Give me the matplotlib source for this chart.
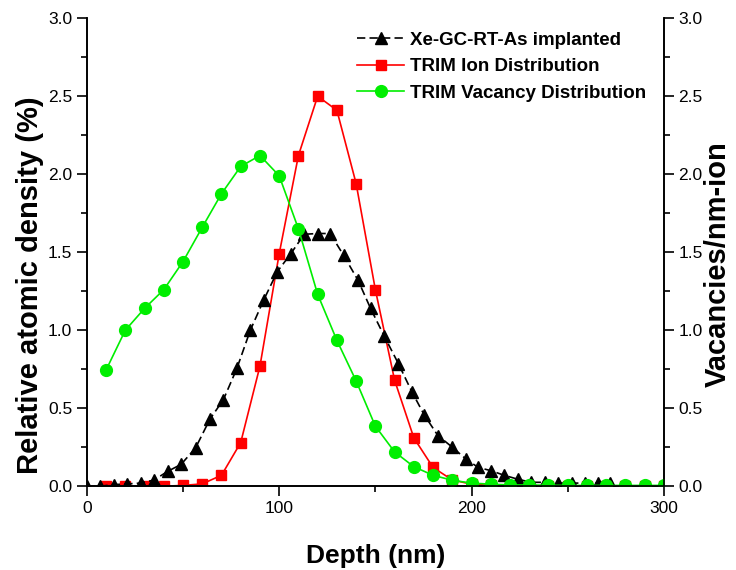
import matplotlib
matplotlib.use("Agg")
import matplotlib.pyplot as plt
from matplotlib.ticker import MultipleLocator, FormatStrFormatter

plt.rcParams["font.family"] = ["Liberation Sans", "DejaVu Sans"]

# Xe-GC-RT-As implanted (measured profile)
exp_depth = [0, 7, 14, 21, 28, 35, 42, 49, 56.5, 64, 71, 78, 85, 92, 99, 106,
             113, 120, 126.5, 133.5, 141, 147.5, 154.5, 162, 169, 175.5, 182.5,
             190, 197, 203.5, 210, 217, 224, 231, 238, 245, 252, 259, 265.5, 272]
exp_density = [0.0, 0.0, 0.01, 0.015, 0.02, 0.04, 0.095, 0.14, 0.245, 0.43,
               0.555, 0.755, 1.0, 1.195, 1.375, 1.49, 1.615, 1.62, 1.62, 1.48,
               1.32, 1.14, 0.965, 0.785, 0.605, 0.455, 0.325, 0.25, 0.175, 0.12,
               0.1, 0.07, 0.045, 0.025, 0.025, 0.02, 0.02, 0.02, 0.02, 0.02]

# TRIM ion distribution
trim_depth = [10, 20, 30, 40, 50, 60, 70, 80, 90, 100, 110, 120, 130, 140, 150,
              160, 170, 180, 190, 200, 210, 220, 230, 240, 250, 260, 270, 280,
              290, 300]
ion_density = [0.0, 0.0, 0.0, 0.0, 0.005, 0.015, 0.07, 0.28, 0.77, 1.49, 2.12,
               2.5, 2.41, 1.94, 1.26, 0.68, 0.31, 0.12, 0.04, 0.013, 0.005, 0.0,
               0.0, 0.0, 0.0, 0.0, 0.0, 0.0, 0.0, 0.0]

# TRIM vacancy distribution (right axis)
vacancies = [0.745, 1.0, 1.14, 1.26, 1.44, 1.66, 1.875, 2.05, 2.12, 1.99, 1.65,
             1.23, 0.935, 0.675, 0.385, 0.22, 0.125, 0.07, 0.038, 0.02, 0.013,
             0.008, 0.008, 0.006, 0.005, 0.005, 0.005, 0.005, 0.005, 0.005]

fig = plt.figure(figsize=(7.36, 5.70), dpi=100)
ax = fig.add_axes([0.118, 0.147, 0.784, 0.821])
ax2 = ax.twinx()

l1, = ax.plot(exp_depth, exp_density, color="black", linestyle=(0, (5, 2.5)),
              linewidth=1.2, marker="^", markersize=9, label="Xe-GC-RT-As implanted",
              zorder=3)
l2, = ax.plot(trim_depth, ion_density, color="#ff0000", linewidth=1.2, marker="s",
              markersize=7, markeredgecolor="#ff0000", label="TRIM Ion Distribution",
              zorder=2)
l3, = ax2.plot(trim_depth, vacancies, color="#00ee00", linewidth=1.2, marker="o",
               markersize=8.5, markeredgecolor="#00ee00",
               label="TRIM Vacancy Distribution")

for a in (ax, ax2):
    a.set_xlim(0, 300)
    a.set_ylim(0, 3.0)
    a.yaxis.set_major_locator(MultipleLocator(0.5))
    a.yaxis.set_minor_locator(MultipleLocator(0.25))
    a.yaxis.set_major_formatter(FormatStrFormatter("%.1f"))
    a.spines["top"].set_visible(False)
    for s in a.spines.values():
        s.set_linewidth(1.2)
    a.tick_params(which="major", direction="out", length=7, width=1.2, labelsize=12.5)
    a.tick_params(which="minor", direction="out", length=4, width=1.2)

ax.xaxis.set_major_locator(MultipleLocator(100))
ax.xaxis.set_minor_locator(MultipleLocator(50))

ax.set_xlabel("Depth (nm)", fontsize=19, fontweight="bold", labelpad=20)
ax.set_ylabel("Relative atomic density (%)", fontsize=21, fontweight="bold", labelpad=3)
ax2.set_ylabel("Vacancies/nm-ion", fontsize=21, fontweight="bold", labelpad=1)
# the labels in the original sit a little below the axis centre
ax.yaxis.label.set_y(0.43)
ax2.yaxis.label.set_y(0.475)

ax.legend(handles=[l1, l2, l3], loc="upper right", bbox_to_anchor=(0.999, 1.007),
          frameon=False, prop={"size": 13.5, "weight": "bold"},
          handlelength=2.5, handletextpad=0.32, labelspacing=0.5)

fig.savefig("out.png", dpi=100)
